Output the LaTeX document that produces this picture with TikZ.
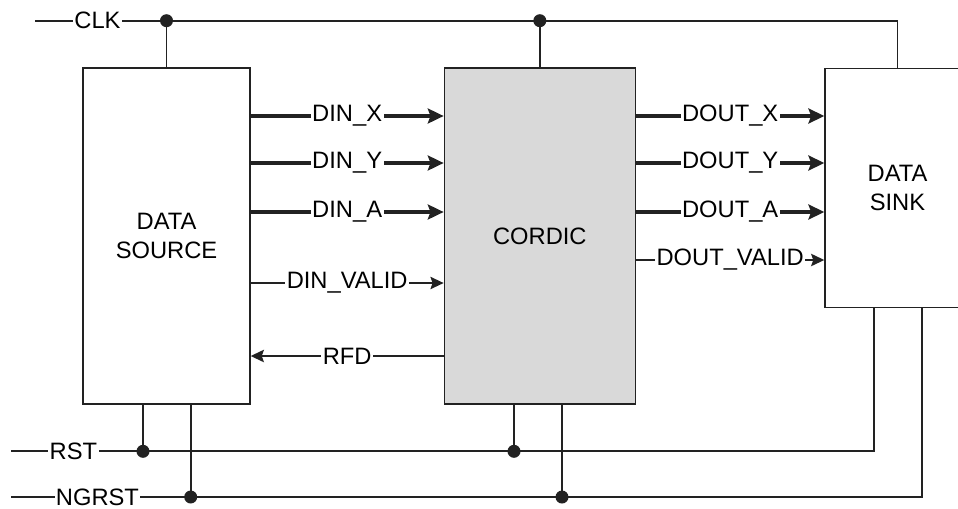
\documentclass[tikz,border=0pt]{standalone}
\usepackage{fontspec}
\setmainfont{Liberation Sans}
\usepackage{tikz}
\usetikzlibrary{arrows.meta,positioning,calc}
\definecolor{WireBlack}{HTML}{222222}
\definecolor{CordGray}{HTML}{D9D9D9}
\tikzset{
  blk/.style={rectangle,draw=WireBlack,line width=0.8pt,fill=white,
              align=center,font=\fontsize{13.5}{16}\selectfont},
  wire/.style={draw=WireBlack,line width=1.1pt},
  bus/.style={draw=WireBlack,line width=1.8pt,
              -{Stealth[length=9pt,width=8.5pt,inset=1.5pt]}},
  ctl/.style={draw=WireBlack,line width=1.1pt,
              -{Stealth[length=7.5pt,width=7pt,inset=1.2pt]}},
  sig/.style={fill=white,inner sep=0.8pt,font=\fontsize{13.5}{16}\selectfont},
  dot/.style={circle,fill=WireBlack,inner sep=0pt,minimum size=0.26cm}
}
\begin{document}
\begin{tikzpicture}[x=0.02cm,y=-0.02cm]
  \useasboundingbox (0,0) rectangle (958,508);
  \node[blk,minimum width=3.34cm,minimum height=6.72cm] (src) at (166.5,236) {DATA\\SOURCE};
  \node[blk,fill=CordGray,minimum width=3.82cm,minimum height=6.72cm,right=3.86cm of src] (cord) {CORDIC};
  \node[blk,minimum width=2.9cm,minimum height=4.78cm] (sink) at (897.5,188) {DATA\\SINK};

  % clock
  \coordinate (clkin) at (35,20.7);
  \coordinate (clkA) at (src.north |- clkin);
  \coordinate (clkB) at (cord.north |- clkin);
  \coordinate (clkC) at (sink.north |- clkin);
  \draw[wire] (clkin) -- node[sig,pos=0.475]{CLK} (clkA) -- (clkB) -- (clkC) -- (sink.north);
  \draw[wire] (clkA) -- (src.north);
  \draw[wire] (clkB) -- (cord.north);
  \node[dot] (clkdotA) at (clkA) {};
  \node[dot] (clkdotB) at (clkB) {};

  % source -> cordic
  \draw[bus] (src.east |- 0,116) -- node[sig]{DIN\_X} (cord.west |- 0,116);
  \draw[bus] (src.east |- 0,163) -- node[sig]{DIN\_Y} (cord.west |- 0,163);
  \draw[bus] (src.east |- 0,212) -- node[sig]{DIN\_A} (cord.west |- 0,212);
  \draw[ctl] (src.east |- 0,283) -- node[sig]{DIN\_VALID} (cord.west |- 0,283);
  \draw[ctl] (cord.west |- 0,356) -- node[sig]{RFD} (src.east |- 0,356);

  % cordic -> sink
  \draw[bus] (cord.east |- 0,116) -- node[sig]{DOUT\_X} (sink.west |- 0,116);
  \draw[bus] (cord.east |- 0,163) -- node[sig]{DOUT\_Y} (sink.west |- 0,163);
  \draw[bus] (cord.east |- 0,212) -- node[sig]{DOUT\_A} (sink.west |- 0,212);
  \draw[ctl] (cord.east |- 0,260) -- node[sig]{DOUT\_VALID} (sink.west |- 0,260);

  % resets
  \coordinate (rstin) at (11,451.3);
  \coordinate (rstA) at (143,451.3);
  \coordinate (rstB) at (514,451.3);
  \coordinate (rstC) at (874,451.3);
  \draw[wire] (rstin) -- node[sig,pos=0.473]{RST} (rstA) -- (rstB) -- (rstC) -- (rstC |- sink.south);
  \draw[wire] (rstA) -- (rstA |- src.south);
  \draw[wire] (rstB) -- (rstB |- cord.south);

  \coordinate (ngin) at (11,497);
  \coordinate (ngA) at (190.7,497);
  \coordinate (ngB) at (562,497);
  \coordinate (ngC) at (922,497);
  \draw[wire] (ngin) -- node[sig,pos=0.481]{NGRST} (ngA) -- (ngB) -- (ngC) -- (ngC |- sink.south);
  \draw[wire] (ngA) -- (ngA |- src.south);
  \draw[wire] (ngB) -- (ngB |- cord.south);

  \node[dot] (rstdotA) at (rstA) {};
  \node[dot] (rstdotB) at (rstB) {};
  \node[dot] (ngdotA) at (ngA) {};
  \node[dot] (ngdotB) at (ngB) {};
\end{tikzpicture}
\end{document}
